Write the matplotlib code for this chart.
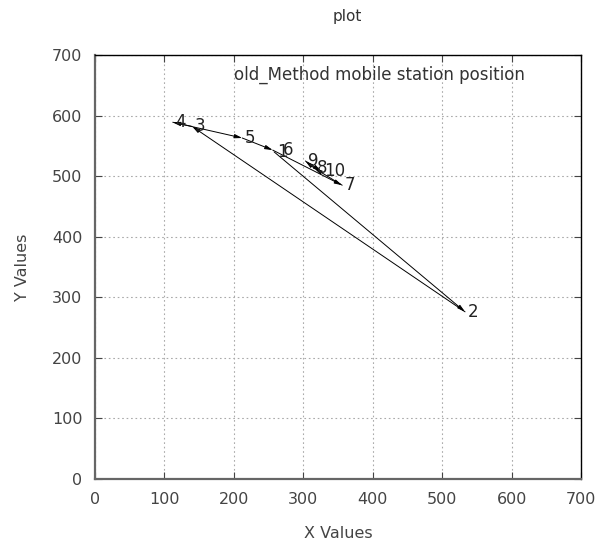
import matplotlib
matplotlib.use("Agg")
import matplotlib.pyplot as plt

# data (point order 1..10)
labels = ["1", "2", "3", "4", "5", "6", "7", "8", "9", "10"]
xs = [258, 533, 140, 112, 212, 256, 356, 316, 303, 326]
ys = [540, 276, 582, 589, 563, 543, 485, 513, 525, 508]
xticks = [0, 100, 200, 300, 400, 500, 600, 700]
yticks = [0, 100, 200, 300, 400, 500, 600, 700]

plt.rcParams['font.family'] = ['DejaVu Sans']
fig = plt.figure(figsize=(6.05, 5.41), dpi=100)
ax = fig.add_axes([95/605, 1 - 479/541, (581-95)/605, (479-55)/541])
ax.set_xlim(0, 700)
ax.set_ylim(0, 700)
ax.set_xticks(xticks)
ax.set_yticks(yticks)
ax.tick_params(direction='in', length=5, top=True, right=True, labelsize=11.5,
               colors='#444444', pad=9)
ax.grid(True, linestyle=(0, (1.5, 2.5)), color='#aaaaaa', linewidth=0.8)
for s in ['left', 'bottom']:
    ax.spines[s].set_color('#666666')
    ax.spines[s].set_linewidth(1.6)
for s in ['top', 'right']:
    ax.spines[s].set_color('black')
    ax.spines[s].set_linewidth(1.0)

for i in range(len(xs) - 1):
    ax.annotate("", xy=(xs[i+1], ys[i+1]), xytext=(xs[i], ys[i]),
                arrowprops=dict(arrowstyle='-|>,head_length=0.45,head_width=0.12',
                                color='black', lw=0.7, shrinkA=0, shrinkB=0))
for lab, x, y in zip(labels, xs, ys):
    ax.annotate(lab, (x, y), xytext=(2 if lab != "6" else 7, 0), textcoords='offset points',
                ha='left', va='center', fontsize=12, color='#222222')

ax.text(0.885, 0.953, "old_Method mobile station position", transform=ax.transAxes,
        ha='right', va='center', fontsize=12, color='#333333')

fig.text(347/605, 1 - 17/541, "plot", ha='center', va='center', fontsize=11, color='#333333')
ax.set_xlabel("X Values", fontsize=11.5, color='#444444', labelpad=14)
ax.set_ylabel("Y Values", fontsize=11.5, color='#444444', labelpad=16)

fig.savefig("out.png", dpi=100)
